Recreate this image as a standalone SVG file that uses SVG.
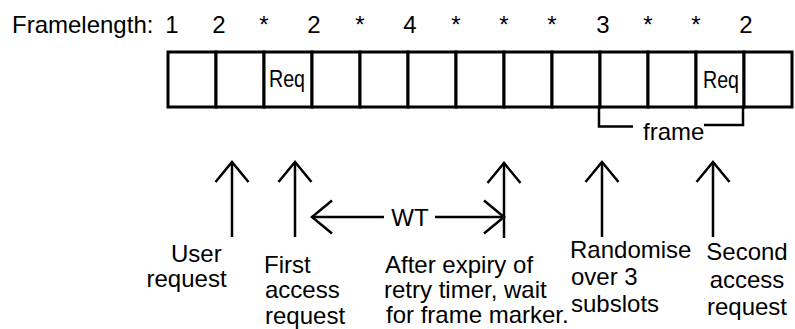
<svg xmlns="http://www.w3.org/2000/svg" width="795" height="329" viewBox="0 0 795 329">
  <style>
    .t { font-family: "Liberation Sans", Arial, sans-serif; font-size: 24px; fill: #000; }
    .m { text-anchor: middle; }
    .cell { fill: #fff; stroke: #000; stroke-width: 3; }
    .ln { fill: none; stroke: #000; stroke-width: 2.5; }
  </style>
  <defs>
    <marker id="open" markerUnits="userSpaceOnUse" markerWidth="40" markerHeight="40" viewBox="-25 -20 30 40" refX="0" refY="0" orient="auto" overflow="visible">
      <path d="M-20,-16.5 L0,0 L-20,16.5" fill="none" stroke="#000" stroke-width="2.5"/>
    </marker>
  </defs>
  <rect width="795" height="329" fill="#fff"/>

  <g id="framelength">
    <text class="t" x="12" y="33">Framelength:</text>
    <text class="t m" x="172" y="33">1</text>
    <text class="t m" x="219" y="33">2</text>
    <text class="t m" x="264" y="33">*</text>
    <text class="t m" x="314" y="33">2</text>
    <text class="t m" x="360" y="33">*</text>
    <text class="t m" x="410" y="33">4</text>
    <text class="t m" x="456" y="33">*</text>
    <text class="t m" x="504" y="33">*</text>
    <text class="t m" x="552" y="33">*</text>
    <text class="t m" x="603" y="33">3</text>
    <text class="t m" x="648" y="33">*</text>
    <text class="t m" x="696" y="33">*</text>
    <text class="t m" x="746" y="33">2</text>
  </g>

  <g id="slots">
    <g id="slot1"><rect class="cell" x="168" y="52" width="48" height="55"/></g>
    <g id="slot2"><rect class="cell" x="216" y="52" width="48" height="55"/></g>
    <g id="slot3"><rect class="cell" x="264" y="52" width="48" height="55"/><text class="t" x="269" y="87" textLength="36" lengthAdjust="spacingAndGlyphs">Req</text></g>
    <g id="slot4"><rect class="cell" x="312" y="52" width="48" height="55"/></g>
    <g id="slot5"><rect class="cell" x="360" y="52" width="48" height="55"/></g>
    <g id="slot6"><rect class="cell" x="408" y="52" width="48" height="55"/></g>
    <g id="slot7"><rect class="cell" x="456" y="52" width="48" height="55"/></g>
    <g id="slot8"><rect class="cell" x="504" y="52" width="48" height="55"/></g>
    <g id="slot9"><rect class="cell" x="552" y="52" width="48" height="55"/></g>
    <g id="slot10"><rect class="cell" x="600" y="52" width="48" height="55"/></g>
    <g id="slot11"><rect class="cell" x="648" y="52" width="48" height="55"/></g>
    <g id="slot12"><rect class="cell" x="696" y="52" width="48" height="55"/><text class="t" x="703" y="88" textLength="36" lengthAdjust="spacingAndGlyphs">Req</text></g>
    <g id="slot13"><rect class="cell" x="744" y="52" width="48" height="55"/></g>
  </g>

  <g id="frame-bracket">
    <polyline class="ln" points="599,107 599,126.5 633,126.5"/>
    <polyline class="ln" points="704,125 743,125 743,107"/>
    <text class="t" x="643" y="140">frame</text>
  </g>

  <g id="connectors">
    <line class="ln" x1="232" y1="237" x2="232" y2="162" marker-end="url(#open)"/>
    <line class="ln" x1="295" y1="237" x2="295" y2="162" marker-end="url(#open)"/>
    <line class="ln" x1="504" y1="238" x2="504" y2="163" marker-end="url(#open)"/>
    <line class="ln" x1="602" y1="237" x2="602" y2="162" marker-end="url(#open)"/>
    <line class="ln" x1="713" y1="237" x2="713" y2="162" marker-end="url(#open)"/>
    <line class="ln" x1="384" y1="217" x2="312" y2="217" marker-end="url(#open)"/>
    <line class="ln" x1="435" y1="217" x2="504" y2="217" marker-end="url(#open)"/>
  </g>

  <g id="wt-label"><text class="t m" x="410" y="226">WT</text></g>

  <g id="label-user">
    <text class="t" x="171" y="262">User</text>
    <text class="t" x="146.5" y="287">request</text>
  </g>
  <g id="label-first">
    <text class="t" x="264" y="273">First</text>
    <text class="t" x="265" y="298">access</text>
    <text class="t" x="265" y="324">request</text>
  </g>
  <g id="label-after">
    <text class="t" x="385" y="273">After expiry of</text>
    <text class="t" x="384" y="298">retry timer, wait</text>
    <text class="t" x="386" y="323">for frame marker.</text>
  </g>
  <g id="label-randomise">
    <text class="t" x="570" y="258">Randomise</text>
    <text class="t" x="571" y="285">over 3</text>
    <text class="t" x="571" y="312">subslots</text>
  </g>
  <g id="label-second">
    <text class="t m" x="747" y="260">Second</text>
    <text class="t m" x="747" y="288">access</text>
    <text class="t m" x="747" y="315">request</text>
  </g>
</svg>
